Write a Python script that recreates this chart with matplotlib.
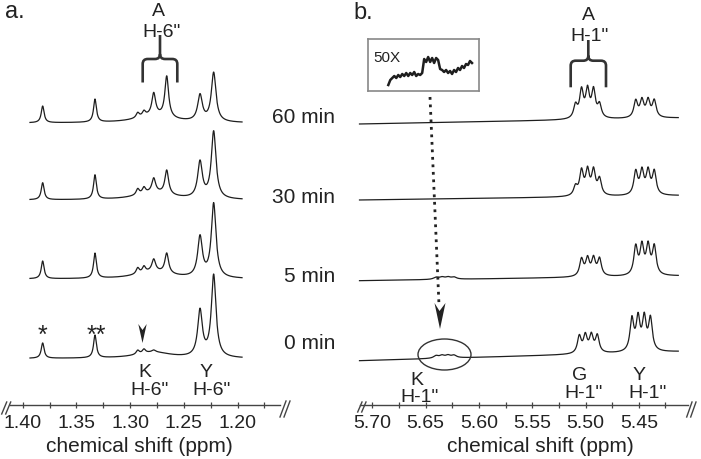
import numpy as np
import matplotlib
matplotlib.use("Agg")
import matplotlib.pyplot as plt
from matplotlib.patches import Ellipse, Polygon, PathPatch
from matplotlib.path import Path

plt.rcParams['font.family'] = ['Liberation Sans', 'DejaVu Sans']

W, H = 701, 460
INK = "#1e1e1e"

TIMES = ["60 min", "30 min", "5 min", "0 min"]

# ---- panel a: H-6'' methyl region (ppm) ----
A_RANGE = (1.3932, 1.1958)
A_PEAKS = [1.3814, 1.3327, 1.2929, 1.2871, 1.2780, 1.2659, 1.2349, 1.2222]
A_WIDTHS = [0.0016, 0.0016, 0.0018, 0.0018, 0.0021, 0.0021, 0.0026, 0.0026]
A_HEIGHTS = [
    [16.7, 23.0, 5.0, 5.0, 22.0, 41.0, 26.0, 49.0],   # 60 min
    [17.0, 24.3, 6.0, 6.0, 14.0, 24.0, 36.0, 67.0],   # 30 min
    [17.7, 25.0, 6.0, 6.0, 12.0, 20.0, 40.0, 74.0],   # 5 min
    [15.3, 22.7, 4.0, 4.0, 2.0, 0.0, 46.0, 82.0],     # 0 min
]
A_HUMP_CENTER, A_HUMP_WIDTH = 1.278, 0.020
A_HUMP = [7.0, 7.0, 7.0, 6.0]

# ---- panel b: H-1'' anomeric region (ppm) ----
B_RANGE = (5.712, 5.413)
B_LINE_WIDTH = 0.0021
G_J = 0.00563
G_CENTER = [5.49812, 5.49812, 5.49812, 5.50019]
G_LINES = [
    [13.0, 27.0, 27.0, 27.0, 13.0],
    [16.0, 24.0, 24.0, 24.0, 9.0],
    [17.0, 17.0, 17.0, 17.0, 0.0],
    [17.0, 17.0, 17.0, 17.0, 0.0],
]
Y_J = 0.0058
Y_CENTER = [5.4442, 5.4442, 5.4442, 5.4478]
Y_AMP = [16.7, 23.0, 28.0, 32.0]
K_CENTER, K_J, K_WIDTH = 5.6318, 0.0056, 0.0028
K_AMP = [0.0, 0.0, 2.0, 2.5]

# 50X inset trace
INSET = [6, 11, 13, 15, 13, 16, 14, 17, 15, 18, 15, 18, 16, 19, 15, 17, 16, 18,
         32, 29, 34, 29, 33, 28, 33, 31, 22, 21, 19, 21, 18, 20, 17, 21, 19, 23,
         21, 25, 23, 27, 26, 30, 28]

# stacking offsets (layout)
OFF_A = [282, 205, 126, 46.5]
OFF_B_LEFT = [281, 205, 124.3, 44.3]
OFF_B_RIGHT = [287, 209.3, 129, 53.3]


def lor(x, x0, h, g):
    return h / (1 + ((x - x0) / g) ** 2)


fig = plt.figure(figsize=(W / 100, H / 100), dpi=100)


def style_axis(ax, majors, minors, fmt):
    for s in ("top", "left", "right"):
        ax.spines[s].set_visible(False)
    ax.spines["bottom"].set_color("#444")
    ax.spines["bottom"].set_linewidth(1.0)
    ax.set_yticks([])
    ax.set_xticks(majors)
    ax.set_xticklabels([fmt % v for v in majors])
    ax.set_xticks(minors, minor=True)
    ax.tick_params(axis="x", which="both", direction="inout", length=5,
                   width=0.9, color="#444", labelsize=14, labelcolor="#222", pad=4)
    ax.patch.set_alpha(0)


# panel a
ax_a = fig.add_axes([10 / W, 1 - 406 / H, 270 / W, 406 / H])
ax_a.set_xlim(1.41182, 1.16043)
ax_a.set_ylim(0, 406)
style_axis(ax_a, [1.40, 1.35, 1.30, 1.25, 1.20],
           [1.375, 1.325, 1.275, 1.225, 1.175], "%.2f")
ax_a.set_xlabel("chemical shift (ppm)", fontsize=15, color="#222", labelpad=3.5, x=0.48)

xa = np.linspace(A_RANGE[0], A_RANGE[1], 2000)
for i in range(4):
    y = lor(xa, A_HUMP_CENTER, A_HUMP[i], A_HUMP_WIDTH)
    for p, w, h in zip(A_PEAKS, A_WIDTHS, A_HEIGHTS[i]):
        y = y + lor(xa, p, h, w)
    ax_a.plot(xa, y + OFF_A[i], color=INK, lw=0.9, clip_on=False)

# panel b
ax_b = fig.add_axes([360 / W, 1 - 406 / H, 328 / W, 406 / H])
ax_b.set_xlim(5.71154, 5.40385)
ax_b.set_ylim(0, 406)
style_axis(ax_b, [5.70, 5.65, 5.60, 5.55, 5.50, 5.45],
           [5.675, 5.625, 5.575, 5.525, 5.475, 5.425], "%.2f")
ax_b.set_xlabel("chemical shift (ppm)", fontsize=15, color="#222", labelpad=3.5, x=0.549)

xb = np.linspace(B_RANGE[0], B_RANGE[1], 2400)
frac = (B_RANGE[0] - xb) / (B_RANGE[0] - B_RANGE[1])
for i in range(4):
    y = np.zeros_like(xb)
    for k, amp in enumerate(G_LINES[i]):
        y += lor(xb, G_CENTER[i] + (k - 2) * G_J, amp, B_LINE_WIDTH)
    for k in range(4):
        y += lor(xb, Y_CENTER[i] + (k - 1.5) * Y_J, Y_AMP[i], B_LINE_WIDTH)
        y += lor(xb, K_CENTER + (k - 1.5) * K_J, K_AMP[i], K_WIDTH)
    base = OFF_B_LEFT[i] + frac * (OFF_B_RIGHT[i] - OFF_B_LEFT[i])
    ax_b.plot(xb, y + base, color=INK, lw=0.9, clip_on=False)

# overlay in pixel coordinates for labels and annotations
ov = fig.add_axes([0, 0, 1, 1])
ov.set_xlim(0, W)
ov.set_ylim(H, 0)
ov.axis("off")
ov.patch.set_alpha(0)


def txt(x, y, s, size=14, ha="center"):
    ov.text(x, y, s, fontsize=size, ha=ha, va="baseline", color="#222")


txt(5, 18, "a.", 17, "left")
txt(353, 19, "b.", 17, "left")
for t, yb in zip(TIMES, [123, 203, 282, 349]):
    txt(335, yb, t, 15, "right")

txt(158, 16, "A")
txt(161, 37, 'H-6"')
txt(42, 343, "*", 18)
txt(96, 343, "**", 18)
txt(145, 377, "K")
txt(150, 395, 'H-6"')
txt(206, 377, "Y")
txt(211, 395, 'H-6"')

txt(588, 20, "A")
txt(589, 41, 'H-1"')
txt(417, 385, "K")
txt(420, 402, 'H-1"')
txt(580, 380, "G")
txt(584, 398, 'H-1"')
txt(639, 380, "Y")
txt(648, 398, 'H-1"')


def brace(xl, xr, xm, ytop, ymid, ybot, r=5):
    verts = [(xl, ybot), (xl, ymid + r), (xl, ymid), (xl + r, ymid),
             (xm - r, ymid), (xm, ymid), (xm, ymid - r), (xm, ytop),
             (xm, ymid - r), (xm, ymid), (xm + r, ymid),
             (xr - r, ymid), (xr, ymid), (xr, ymid + r), (xr, ybot)]
    codes = [Path.MOVETO, Path.LINETO, Path.CURVE3, Path.CURVE3,
             Path.LINETO, Path.CURVE3, Path.CURVE3, Path.LINETO,
             Path.MOVETO, Path.CURVE3, Path.CURVE3,
             Path.LINETO, Path.CURVE3, Path.CURVE3, Path.LINETO]
    ov.add_patch(PathPatch(Path(verts, codes), fill=False, lw=1.9,
                           edgecolor="#333", capstyle="butt"))


brace(142.7, 177.3, 160, 36, 60, 83.5)
brace(570.7, 606, 588.3, 41, 61.7, 88.3)

# arrowhead over K H-6''
ov.add_patch(Polygon([(138.3, 325), (142.5, 331), (146.7, 325), (142.5, 344)],
                     closed=True, color="#222", lw=0))

# dotted arrow towards K H-1''
ov.plot([430, 439], [98, 306], color="#222", lw=2.0, ls=(0, (1, 1.7)))
ov.add_patch(Polygon([(434.5, 304), (439.5, 312), (445.5, 304), (440, 330)],
                     closed=True, color="#222", lw=0))
ov.add_patch(Ellipse((444.5, 355.5), 53, 31, fill=False, lw=1.0, edgecolor="#333"))

# axis breaks
for (x0, y0, x1, y1) in [(1.7, 415, 6.7, 403), (280, 418, 286, 402),
                         (357.7, 413, 362, 403), (686.7, 418, 692, 403)]:
    for dx in (0, 4):
        ov.plot([x0 + dx, x1 + dx], [y0, y1], color="#444", lw=1.0)

# 50X inset
ins = fig.add_axes([368 / W, 1 - 92 / H, 111 / W, 52 / H])
ins.set_xlim(0, 111)
ins.set_ylim(0, 52)
ins.set_xticks([])
ins.set_yticks([])
for s in ins.spines.values():
    s.set_color("#888")
    s.set_linewidth(1.2)
ins.plot(np.linspace(20.3, 104, len(INSET)), INSET, color=INK, lw=1.8)
ins.text(5, 30, "50X", fontsize=11, color="#222", va="baseline")

fig.savefig("out.png", dpi=100)
